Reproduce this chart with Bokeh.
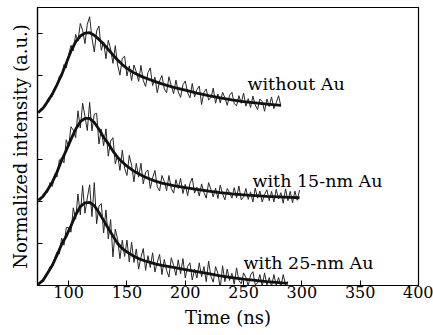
from bokeh.plotting import figure
from bokeh.models import Range1d, FixedTicker, Label
from bokeh.embed import file_html
from bokeh.resources import INLINE

FONT = "DejaVu Serif"

# ---------------- data ----------------
x_ticks = [100, 150, 200, 250, 300, 350, 400]
y_ticks = [0, 1, 2, 3, 4, 5, 6]

# sampling times (ns)
t_top = list(range(74, 283, 2))
t_mid = list(range(74, 299, 2))
t_bot = list(range(74, 289, 2))

# measured traces (vertically offset, normalized)
y_top = [4.10, 4.21, 4.23, 4.25, 4.44, 4.49, 4.50, 4.72, 4.75, 4.98,
         4.96, 5.26, 5.18, 5.49, 5.72, 5.59, 5.98, 5.82, 6.24, 6.08,
         5.76, 6.22, 6.40, 5.89, 5.56, 6.06, 6.18, 5.60, 5.80, 5.40,
         5.84, 5.63, 5.29, 5.71, 5.25, 5.01, 5.41, 5.46, 4.99, 5.23,
         4.88, 5.25, 5.09, 4.86, 5.24, 4.88, 4.74, 5.07, 5.18, 4.76,
         4.96, 4.59, 4.87, 5.00, 4.68, 4.59, 4.97, 4.76, 4.57, 4.89,
         4.61, 4.48, 4.78, 4.87, 4.59, 4.47, 4.81, 4.49, 4.66, 4.75,
         4.31, 4.60, 4.68, 4.42, 4.47, 4.70, 4.34, 4.56, 4.35, 4.60,
         4.47, 4.29, 4.53, 4.60, 4.33, 4.28, 4.52, 4.34, 4.58, 4.27,
         4.45, 4.24, 4.51, 4.30, 4.19, 4.44, 4.38, 4.15, 4.44, 4.26,
         4.49, 4.21, 4.35, 4.52, 4.27]

y_mid = [2.05, 2.03, 2.17, 2.21, 2.22, 2.45, 2.36, 2.64, 2.58, 2.99,
         3.03, 2.92, 3.47, 3.30, 3.78, 3.70, 3.52, 4.16, 3.75, 4.34,
         4.03, 3.69, 4.36, 3.68, 4.08, 4.10, 3.37, 3.72, 3.33, 3.73,
         3.08, 3.44, 3.52, 2.90, 3.10, 2.74, 3.22, 2.79, 2.62, 3.10,
         2.86, 2.47, 2.91, 2.58, 2.91, 2.42, 2.70, 2.75, 2.31, 2.56,
         2.74, 2.35, 2.25, 2.62, 2.48, 2.26, 2.62, 2.31, 2.20, 2.52,
         2.31, 2.55, 2.19, 2.41, 2.14, 2.43, 2.56, 2.20, 2.34, 2.13,
         2.42, 2.22, 2.08, 2.45, 2.29, 2.11, 2.32, 2.07, 2.39, 2.18,
         2.04, 2.31, 2.21, 2.08, 2.33, 2.09, 2.37, 2.04, 2.11, 2.31,
         2.05, 2.23, 1.99, 2.32, 2.08, 2.25, 1.99, 2.17, 2.28, 2.02,
         2.24, 1.99, 2.29, 2.06, 2.21, 1.96, 2.30, 2.02, 2.24, 1.97,
         2.25, 2.03, 2.27]

y_bot = [0.01, 0.10, 0.09, 0.25, 0.28, 0.45, 0.44, 0.65, 0.80, 0.75,
         1.13, 0.96, 1.38, 1.38, 1.27, 1.85, 1.58, 2.18, 1.68, 2.38,
         1.72, 2.08, 2.40, 1.64, 2.45, 1.47, 1.89, 1.95, 1.25, 1.80,
         1.11, 1.57, 0.68, 1.34, 1.10, 0.64, 1.08, 0.69, 1.08, 0.56,
         1.03, 0.55, 0.87, 0.39, 0.67, 0.88, 0.36, 0.71, 0.43, 0.78,
         0.32, 0.55, 0.74, 0.26, 0.62, 0.36, 0.20, 0.66, 0.48, 0.24,
         0.61, 0.28, 0.64, 0.18, 0.45, 0.54, 0.13, 0.39, 0.18, 0.54,
         0.21, 0.45, 0.09, 0.58, 0.22, 0.08, 0.45, 0.29, -0.07, 0.47,
         0.09, 0.39, 0.12, 0.29, 0.03, 0.42, 0.12, 0.04, 0.30, 0.19,
         -0.01, 0.25, 0.33, 0.02, 0.06, 0.26, -0.02, 0.30, 0.01, 0.19,
         -0.02, 0.26, 0.01, 0.19, -0.02, 0.26, 0.02, 0.10]

# fitted curves
fit_t_top = [74, 78, 82, 86, 90, 94, 98, 102, 106, 110, 114, 118, 122, 126, 130,
             134, 138, 142, 146, 150, 155, 160, 165, 170, 175, 180, 190, 200,
             210, 220, 230, 240, 250, 260, 270, 282]
fit_y_top = [4.12, 4.22, 4.38, 4.56, 4.78, 5.02, 5.30, 5.58, 5.80, 5.94, 6.01,
             6.02, 5.96, 5.86, 5.75, 5.62, 5.49, 5.37, 5.26, 5.17, 5.08, 5.01,
             4.95, 4.90, 4.85, 4.80, 4.72, 4.65, 4.58, 4.52, 4.47, 4.42, 4.38,
             4.35, 4.32, 4.29]

fit_t_mid = [74, 78, 82, 86, 90, 94, 98, 102, 106, 110, 114, 118, 122, 126, 130,
             134, 138, 142, 146, 150, 155, 160, 165, 170, 175, 180, 190, 200,
             210, 220, 230, 240, 250, 260, 270, 280, 290, 298]
fit_y_mid = [2.03, 2.12, 2.28, 2.46, 2.70, 2.98, 3.22, 3.48, 3.72, 3.90, 3.98,
             3.98, 3.88, 3.72, 3.53, 3.38, 3.20, 3.05, 2.94, 2.84, 2.74, 2.66,
             2.59, 2.53, 2.48, 2.44, 2.38, 2.33, 2.29, 2.25, 2.21, 2.18, 2.16,
             2.14, 2.12, 2.11, 2.10, 2.09]

fit_t_bot = [74, 78, 82, 86, 90, 94, 98, 102, 106, 110, 114, 118, 122, 126, 130,
             134, 138, 142, 146, 150, 155, 160, 165, 170, 175, 180, 190, 200,
             210, 220, 230, 240, 250, 260, 270, 280, 288]
fit_y_bot = [0.03, 0.12, 0.30, 0.48, 0.72, 0.98, 1.18, 1.42, 1.68, 1.88, 1.97,
             1.98, 1.90, 1.74, 1.55, 1.36, 1.18, 1.00, 0.88, 0.80, 0.71, 0.64,
             0.59, 0.55, 0.51, 0.48, 0.43, 0.38, 0.33, 0.28, 0.23, 0.19, 0.15,
             0.12, 0.09, 0.07, 0.05]

labels = ["without Au", "with 15-nm Au", "with 25-nm Au"]
label_t = [253.4, 257.7, 250.0]
label_y = [4.80, 2.50, 0.54]

# ---------------- figure ----------------
p = figure(width=433, height=335, output_backend="svg", toolbar_location=None,
           x_range=Range1d(73.3, 400), y_range=Range1d(0, 6.62),
           min_border_left=37, min_border_right=15, min_border_top=7,
           min_border_bottom=50)
p.xgrid.visible = False
p.ygrid.visible = False
p.outline_line_color = "black"
p.outline_line_width = 1.2
p.background_fill_color = "white"
p.border_fill_color = "white"

for ax in (p.xaxis[0], p.yaxis[0]):
    ax.axis_line_color = "black"
    ax.axis_line_width = 1.2
    ax.major_tick_line_color = "black"
    ax.minor_tick_line_color = None
    ax.major_tick_in = 5
    ax.major_tick_out = 0
    ax.axis_label_text_font = FONT
    ax.axis_label_text_font_style = "normal"
    ax.axis_label_text_font_size = "18px"
    ax.axis_label_text_color = "black"
    ax.major_label_text_font = FONT
    ax.major_label_text_color = "black"

p.xaxis.ticker = FixedTicker(ticks=x_ticks)
p.xaxis.major_label_text_font_size = "16px"
p.xaxis.major_label_standoff = 0
p.xaxis.axis_label = "Time (ns)"
p.xaxis.axis_label_standoff = 6

p.yaxis.ticker = FixedTicker(ticks=y_ticks)
p.yaxis.major_label_overrides = {t: "" for t in y_ticks}
p.yaxis.major_label_standoff = 0
p.yaxis.axis_label = "Normalized intensity (a.u.)"
p.yaxis.axis_label_standoff = 7

noise_color = "#262626"
fit_color = "#111111"
for t, y in ((t_top, y_top), (t_mid, y_mid), (t_bot, y_bot)):
    p.line(t, y, line_color=noise_color, line_width=1.0)
for t, y in ((fit_t_top, fit_y_top), (fit_t_mid, fit_y_mid), (fit_t_bot, fit_y_bot)):
    p.line(t, y, line_color=fit_color, line_width=2.8)

for txt, lx, ly in zip(labels, label_t, label_y):
    p.add_layout(Label(x=lx, y=ly, text=txt, text_font=FONT, text_font_size="17.5px",
                       text_color="black", text_baseline="alphabetic"))

open("out.html", "w").write(file_html(p, INLINE))
